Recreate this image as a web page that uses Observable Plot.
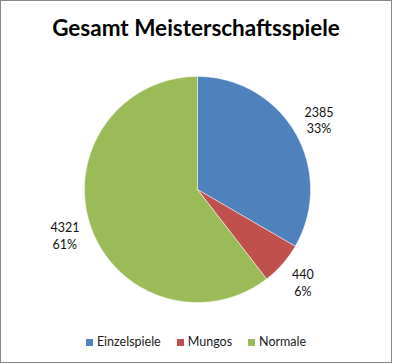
<!DOCTYPE html>
<html>
<head>
<meta charset="utf-8">
<script src="https://cdn.jsdelivr.net/npm/d3@7"></script>
<script src="https://cdn.jsdelivr.net/npm/@observablehq/plot@0.6"></script>
<style>
  html, body { margin: 0; padding: 0; background: #fff; }
  #chart {
    position: relative; width: 392px; height: 363px; box-sizing: border-box;
    border: 1px solid #878787; background: #fff; overflow: hidden;
    font-family: Lato, "Open Sans", sans-serif;
  }
  #title {
    position: absolute; left: 0; top: 12px; width: 100%; text-align: center;
    font-weight: bold; font-size: 22.5px; color: #000; line-height: 30px;
  }
  #plot { position: absolute; left: 0; top: 58px; }
  #legend {
    position: absolute; left: 0; top: 332px; width: 100%;
    display: flex; justify-content: center; gap: 16px;
    font-size: 12.5px; color: #1a1a1a; line-height: 18px;
  }
  .item { display: flex; align-items: center; gap: 4px; }
  .sw { width: 7px; height: 7px; display: inline-block; }
</style>
</head>
<body>
<div id="chart">
  <div id="title">Gesamt Meisterschaftsspiele</div>
  <div id="plot"></div>
  <div id="legend"></div>
</div>
<script>
const categories = ["Einzelspiele", "Mungos", "Normale"];
const values = [2385, 440, 4321];
const percentLabels = ["33%", "6%", "61%"];
const colors = ["#4F81BD", "#C0504D", "#9BBB59"];

// layout constants (pixels inside the SVG)
const W = 390, H = 264, cx = 196, cy = 130, R = 113, labelR = 1.24;

const arcs = d3.pie().sort(null).value(d => d.value)(
  categories.map((c, i) => ({category: c, value: values[i], pct: percentLabels[i]}))
);

const polyPts = [];
arcs.forEach(a => {
  const n = Math.max(8, Math.ceil((a.endAngle - a.startAngle) / 0.01));
  polyPts.push({category: a.data.category, x: 0, y: 0});
  for (let k = 0; k <= n; k++) {
    const t = a.startAngle + (a.endAngle - a.startAngle) * k / n;
    polyPts.push({category: a.data.category, x: Math.sin(t), y: Math.cos(t)});
  }
  polyPts.push({category: a.data.category, x: 0, y: 0});
});

const labels = arcs.map(a => {
  const m = (a.startAngle + a.endAngle) / 2;
  return {x: Math.sin(m) * labelR, y: Math.cos(m) * labelR, text: `${a.data.value}\n${a.data.pct}`};
});

const plot = Plot.plot({
  width: W, height: H, margin: 0,
  x: {domain: [-cx / R, (W - cx) / R], range: [0, W], axis: null},
  y: {domain: [-(H - cy) / R, cy / R], range: [H, 0], axis: null},
  color: {domain: categories, range: colors},
  style: {fontFamily: "Lato, 'Open Sans', sans-serif", background: "transparent"},
  marks: [
    Plot.line(polyPts, {x: "x", y: "y", z: "category", fill: "category",
      stroke: "#ffffff", strokeWidth: 0.8, strokeOpacity: 0.6, curve: "linear"}),
    Plot.text(labels, {x: "x", y: "y", text: "text", fontSize: 12.5, lineHeight: 1.35,
      fill: "#111", textAnchor: "middle"})
  ]
});
document.getElementById("plot").appendChild(plot);

const legend = document.getElementById("legend");
categories.forEach((c, i) => {
  const it = document.createElement("div");
  it.className = "item";
  it.innerHTML = `<span class="sw" style="background:${colors[i]}"></span><span>${c}</span>`;
  legend.appendChild(it);
});
</script>
</body>
</html>
